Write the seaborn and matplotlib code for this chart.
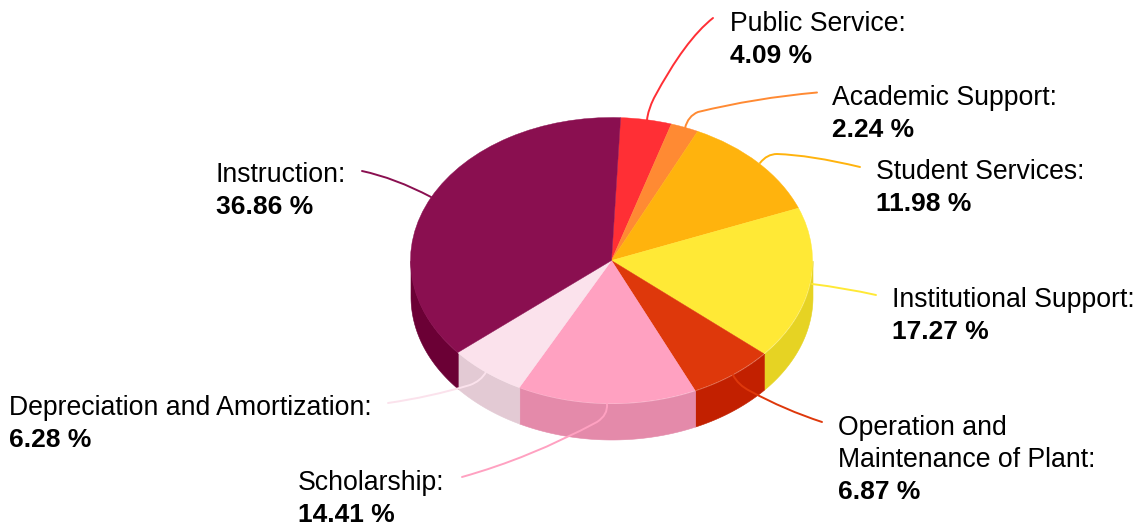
import numpy as np
import matplotlib
matplotlib.use("Agg")
import matplotlib.pyplot as plt
from matplotlib.path import Path
from matplotlib.patches import PathPatch
import seaborn as sns

categories = ['Public Service', 'Academic Support', 'Student Services', 'Institutional Support',
              'Operation and\nMaintenance of Plant', 'Scholarship', 'Depreciation and Amortization', 'Instruction']
shares = [4.09, 2.24, 11.98, 17.27, 6.87, 14.41, 6.28, 36.86]
top_colors = ['#FF2F35', '#FF8A33', '#FFB30D', '#FFE936', '#DE380B', '#FFA1C1', '#FBE2EC', '#8A0F50']
side_colors = ['#D92A2E', '#D9762B', '#D9980B', '#E6D323', '#C22000', '#E48AAA', '#E3CAD4', '#6B0035']

# label anchors in picture pixels: x, baseline of the first line
label_pos = [(730, 31), (832, 105), (876, 179), (892, 307), (838, 435), (298, 490), (9, 415), (216, 182)]

# leader curves in picture pixels, pairs of quadratic segments
leaders = [
    [(647, 120), (648, 110), (654, 98), (685, 40), (713, 18)],
    [(685, 128), (688, 116), (698, 112), (755, 98), (817, 92.5)],
    [(760, 163), (767, 154), (777, 154), (810, 155), (860, 167)],
    [(812, 284), (845, 288), (876, 295)],
    [(733, 375), (738, 385), (750, 391), (785, 410), (822, 422)],
    [(607, 404), (608, 415), (597, 422), (530, 458), (462, 477)],
    [(486, 372), (481, 381), (470, 385), (430, 397), (388, 403)],
    [(431, 197), (395, 178), (362, 171)],
]

WIDTH, HEIGHT = 1139, 525
CX, CY, RX, RY = 611.5, 260.5, 201, 143
DEPTH = 36 / RY
START = 87.4


def draw_walls(ax, values, colors):
    edges = START - np.cumsum([0] + list(values)) * 3.6
    for i, color in enumerate(colors):
        # only the front half of the rim shows
        theta = np.linspace(edges[i], edges[i + 1], 200) % 360
        theta = theta[theta > 180]
        if len(theta) < 2:
            continue
        x = np.cos(np.radians(theta))
        y = np.sin(np.radians(theta))
        ax.fill_between(x, y, y - DEPTH, color=color, linewidth=0.4, zorder=1)


def draw_leader(ax, points, color):
    codes = [Path.MOVETO] + [Path.CURVE3] * (len(points) - 1)
    ax.add_patch(PathPatch(Path(points, codes), fill=False, edgecolor=color, linewidth=1.4, capstyle='round'))


def main():
    sns.set_theme(style='white')
    plt.rcParams['font.family'] = ['Liberation Sans', 'DejaVu Sans']

    fig = plt.figure(figsize=(WIDTH / 100, HEIGHT / 100), dpi=100)
    ax = fig.add_axes([0, 0, 1, 1])

    draw_walls(ax, shares, side_colors)
    wedges, _ = ax.pie(shares, colors=sns.color_palette(top_colors), startangle=START, counterclock=False,
                       wedgeprops={'linewidth': 0.3, 'zorder': 2})
    for w, c in zip(wedges, top_colors):
        w.set_edgecolor(c)
    ax.set_aspect('auto')
    ax.set_xlim(-CX / RX, (WIDTH - CX) / RX)
    ax.set_ylim((CY - HEIGHT) / RY, CY / RY)
    ax.axis('off')

    # overlay in picture pixels for labels and leaders
    lab = fig.add_axes([0, 0, 1, 1])
    lab.set_xlim(0, WIDTH)
    lab.set_ylim(HEIGHT, 0)
    lab.axis('off')
    lab.patch.set_alpha(0)

    for name, share, (x, y), pts, color in zip(categories, shares, label_pos, leaders, top_colors):
        draw_leader(lab, pts, color)
        lines = name.split('\n')
        for i, line in enumerate(lines):
            suffix = ':' if i == len(lines) - 1 else ''
            lab.text(x, y + i * 32, line + suffix, fontsize=19.2, color='black', va='baseline', ha='left')
        lab.text(x, y + len(lines) * 32, f"{share:.2f} %", fontsize=19, fontweight='bold', color='black',
                 va='baseline', ha='left')

    fig.savefig('out.png', dpi=100)


if __name__ == "__main__":
    main()
